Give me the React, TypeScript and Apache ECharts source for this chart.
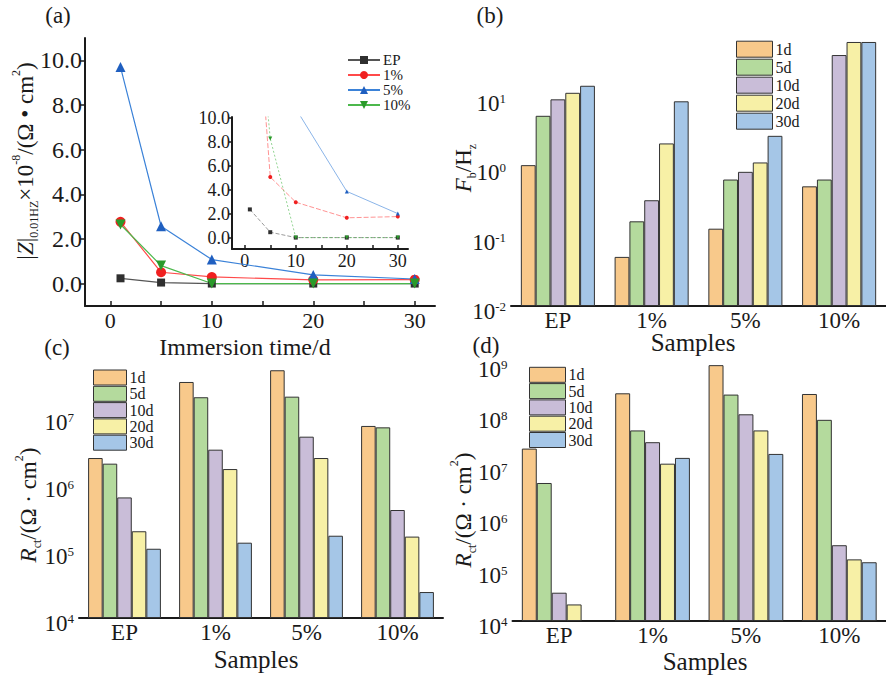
import React, { useEffect, useRef } from 'react';
import * as echarts from 'echarts';

// ---------- data ----------
const days = [1, 5, 10, 20, 30];
const lineNames = ['EP', '1%', '5%', '10%'];
// (a) |Z|0.01Hz x 1e-8 (main plot)
const zEP = [0.24, 0.05, 0.005, 0.005, 0.005];
const z1 = [2.77, 0.51, 0.3, 0.17, 0.18];
const z5 = [9.7, 2.57, 1.08, 0.39, 0.21];
const z10 = [2.65, 0.81, 0.005, 0.005, 0.005];
// (a) inset (magnified)
const insetEP = [2.4, 0.5, 0.05, 0.05, 0.05];
const inset1 = [27.7, 5.1, 3.0, 1.7, 1.8];
const inset5 = [97, 25.7, 10.8, 3.9, 2.05];
const inset10 = [26.5, 8.3, 0.05, 0.05, 0.05];

const samples = ['EP', '1%', '5%', '10%'];
const periods = ['1d', '5d', '10d', '20d', '30d'];
// (b) Fb / Hz
const fb1d = [1.07, 0.051, 0.13, 0.53];
const fb5d = [5.5, 0.166, 0.664, 0.664];
const fb10d = [9.5, 0.334, 0.857, 41.3];
const fb20d = [11.8, 2.2, 1.17, 63.7];
const fb30d = [14.9, 8.9, 2.83, 63.7];
// (c) Rct
const rc1d = [2.44e6, 3.33e7, 4.98e7, 7.35e6];
const rc5d = [2.01e6, 1.97e7, 2.01e7, 7.0e6];
const rc10d = [6.3e5, 3.25e6, 5.08e6, 4.09e5];
const rc20d = [1.97e5, 1.67e6, 2.44e6, 1.64e5];
const rc30d = [1.08e5, 1.33e5, 1.69e5, 2.44e4];
// (d) Rct
const rd1d = [2.26e7, 2.69e8, 9.5e8, 2.61e8];
const rd5d = [4.84e6, 5.1e7, 2.54e8, 8.2e7];
const rd10d = [3.55e4, 3.01e7, 1.05e8, 2.98e5];
const rd20d = [2.1e4, 1.15e7, 5.1e7, 1.58e5];
const rd30d = [null, 1.49e7, 1.78e7, 1.39e5];

const yTicksA = [0, 2, 4, 6, 8, 10];
const xTicksA = [0, 10, 20, 30];
const xMinorA = [0, 5, 10, 15, 20, 25, 30];

// ---------- styles ----------
const serif = '"Liberation Serif", "Times New Roman", serif';
const ink = '#1a1a1a';
const barColors = ['#F8C98B', '#B4DA9D', '#C9BDD8', '#F7F0A6', '#A5C6E7'];
const lineColors = ['#555555', '#ff4a4a', '#3b82d8', '#4cb84c'];
const insetTypes: any[] = [[4, 2], [5, 2], 'solid', [2, 2]];
const markColors = ['#2f2f2f', '#f02020', '#1f5fc0', '#2a9a2a'];
const symbols = ['rect', 'circle', 'triangle', 'triangle'];
const rotations = [0, 0, 0, 180];

const axisLineStyle = { lineStyle: { color: ink, width: 2 }, onZero: false };

const logFormatter = (v: number) => {
  const e = Math.log10(v);
  const r = Math.round(e);
  if (Math.abs(e - r) > 1e-6) return '';
  return '10{sup|' + r + '}';
};
const logRich = {
  sup: { fontSize: 13, fontFamily: serif, color: ink, verticalAlign: 'top', lineHeight: 12 },
};

function vTitle(x: number, y: number, text: string, size = 23) {
  return {
    type: 'text',
    x,
    y,
    rotation: Math.PI / 2,
    style: {
      text,
      fill: ink,
      font: `${size}px ${serif}`,
      fontSize: size,
      fontFamily: serif,
      align: 'center',
      verticalAlign: 'middle',
      textAlign: 'center',
      textVerticalAlign: 'middle',
      lineHeight: 30,
      rich: {
        i: { fontStyle: 'italic', fontSize: size, fontFamily: serif, fill: ink },
        sub: { fontSize: 12, fontFamily: serif, verticalAlign: 'bottom', fill: ink, lineHeight: 12 },
        sup: { fontSize: 12, fontFamily: serif, verticalAlign: 'top', fill: ink, lineHeight: 12 },
      },
    },
  };
}
function hText(x: number, y: number, text: string, size = 24) {
  return {
    type: 'text',
    x,
    y,
    style: {
      text,
      fill: ink,
      font: `${size}px ${serif}`,
      align: 'center',
      verticalAlign: 'middle',
      textAlign: 'center',
      textVerticalAlign: 'middle',
    },
  };
}

function buildOption() {
  const lineData = [zEP, z1, z5, z10];
  const insetData = [insetEP, inset1, inset5, inset10];
  const barSets = [
    [fb1d, fb5d, fb10d, fb20d, fb30d],
    [rc1d, rc5d, rc10d, rc20d, rc30d],
    [rd1d, rd5d, rd10d, rd20d, rd30d],
  ];

  const series: any[] = [];
  lineNames.forEach((name, i) => {
    series.push({
      type: 'line',
      name,
      xAxisIndex: 0,
      yAxisIndex: 0,
      data: days.map((d, k) => [d, lineData[i][k]]),
      symbol: symbols[i],
      symbolRotate: rotations[i],
      symbolSize: i === 0 ? 8 : 10,
      lineStyle: { color: lineColors[i], width: 1.2 },
      itemStyle: { color: markColors[i] },
      z: 3,
    });
  });
  lineNames.forEach((name, i) => {
    series.push({
      type: 'line',
      name,
      xAxisIndex: 1,
      yAxisIndex: 1,
      data: days.map((d, k) => [d, insetData[i][k]]),
      symbol: symbols[i],
      symbolRotate: rotations[i],
      symbolSize: 4,
      clip: true,
      lineStyle: { color: lineColors[i], width: 0.8, type: insetTypes[i], opacity: 0.75 },
      itemStyle: { color: markColors[i] },
      z: 3,
    });
  });
  barSets.forEach((set, p) => {
    periods.forEach((name, i) => {
      series.push({
        type: 'bar',
        name,
        xAxisIndex: p + 2,
        yAxisIndex: p + 2,
        data: set[i],
        barGap: '0%',
        barCategoryGap: p === 0 ? '21%' : '20%',
        itemStyle: { color: barColors[i], borderColor: '#333', borderWidth: 1 },
      });
    });
  });

  const catLabel = { fontSize: 23, fontFamily: serif, color: ink, margin: 3 };
  const logLabel = {
    fontSize: 23,
    fontFamily: serif,
    color: ink,
    margin: 5,
    padding: [11, 0, 0, 0],
    formatter: logFormatter,
    rich: logRich,
  };

  const barLegend = (left: number, top: number, w: number, h: number, gap: number, fs: number) => ({
    orient: 'vertical',
    left,
    top,
    padding: 0,
    itemWidth: w,
    itemHeight: h,
    itemGap: gap,
    icon: 'rect',
    data: periods,
    itemStyle: { borderColor: '#333', borderWidth: 1 },
    textStyle: { fontSize: fs, fontFamily: serif, color: ink, padding: [0, 0, 0, -2] },
  });

  return {
    animation: false,
    backgroundColor: '#ffffff',
    grid: [
      { left: 85, top: 38, width: 350, height: 268 },
      { left: 232, top: 117, width: 176, height: 132 },
      { left: 511, top: 34, width: 396, height: 272 },
      { left: 79, top: 367, width: 364, height: 251 },
      { left: 512.5, top: 364, width: 388, height: 257 },
    ],
    legend: [
      {
        orient: 'vertical',
        left: 347,
        top: 52.5,
        padding: 0,
        itemWidth: 32,
        itemHeight: 10,
        itemGap: 0,
        data: lineNames,
        textStyle: { fontSize: 15, fontFamily: serif, color: ink, padding: [0, 0, 0, -2] },
      },
      barLegend(736, 40.7, 36, 16, 1, 16),
      barLegend(93, 369.5, 33, 15, 0.3, 16),
      barLegend(529, 366.8, 36, 15, 0.3, 16),
    ],
    xAxis: [
      {
        type: 'value',
        gridIndex: 0,
        min: -2.5,
        max: 32,
        axisLine: axisLineStyle,
        axisTick: { inside: true, length: 5, customValues: xMinorA, lineStyle: { color: ink, width: 1.5 } },
        axisLabel: { customValues: xTicksA, fontSize: 22, fontFamily: serif, color: ink, margin: 3 },
        splitLine: { show: false },
      },
      {
        type: 'value',
        gridIndex: 1,
        min: -2.5,
        max: 32,
        axisLine: axisLineStyle,
        axisTick: { inside: true, length: 4, customValues: xMinorA, lineStyle: { color: ink, width: 1.5 } },
        axisLabel: { customValues: xTicksA, fontSize: 18, fontFamily: serif, color: ink, margin: 3 },
        splitLine: { show: false },
      },
      ...[2, 3, 4].map((g) => ({
        type: 'category',
        gridIndex: g,
        data: samples,
        axisLine: axisLineStyle,
        axisTick: { alignWithLabel: true, inside: true, length: 5, lineStyle: { color: ink, width: 1.5 } },
        axisLabel: catLabel,
        splitLine: { show: false },
      })),
    ],
    yAxis: [
      {
        type: 'value',
        gridIndex: 0,
        min: -1,
        max: 11,
        axisLine: axisLineStyle,
        axisTick: { length: 5, customValues: yTicksA, lineStyle: { color: ink, width: 1.5 } },
        axisLabel: {
          customValues: yTicksA,
          formatter: (v: number) => v.toFixed(1),
          fontSize: 24,
          fontFamily: serif,
          color: ink,
          margin: 3,
        },
        splitLine: { show: false },
      },
      {
        type: 'value',
        gridIndex: 1,
        min: -0.9,
        max: 10.1,
        axisLine: axisLineStyle,
        axisTick: { length: 3, customValues: yTicksA, lineStyle: { color: ink, width: 1.5 } },
        axisLabel: {
          customValues: yTicksA,
          formatter: (v: number) => v.toFixed(1),
          fontSize: 18,
          fontFamily: serif,
          color: ink,
          margin: 2,
        },
        splitLine: { show: false },
      },
      {
        type: 'log',
        logBase: 10,
        gridIndex: 2,
        min: 0.01,
        max: 83,
        startValue: 0.01,
        axisLine: axisLineStyle,
        axisTick: { length: 6, lineStyle: { color: ink, width: 1.5 } },
        axisLabel: logLabel,
        splitLine: { show: false },
      },
      {
        type: 'log',
        logBase: 10,
        gridIndex: 3,
        min: 1e4,
        max: 5.57e7,
        startValue: 1e4,
        axisLine: axisLineStyle,
        axisTick: { length: 6, lineStyle: { color: ink, width: 1.5 } },
        axisLabel: logLabel,
        splitLine: { show: false },
      },
      {
        type: 'log',
        logBase: 10,
        gridIndex: 4,
        min: 1e4,
        max: 1e9,
        startValue: 1e4,
        axisLine: axisLineStyle,
        axisTick: { length: 6, lineStyle: { color: ink, width: 1.5 } },
        axisLabel: logLabel,
        splitLine: { show: false },
      },
    ],
    graphic: [
      hText(58, 15, '(a)', 23),
      hText(490, 15, '(b)', 23),
      hText(57, 347, '(c)', 23),
      hText(486, 345, '(d)', 23),
      hText(245, 347, 'Immersion time/d', 24),
      hText(693, 342, 'Samples', 25),
      hText(256, 659, 'Samples', 25),
      hText(705, 661, 'Samples', 25),
      vTitle(25, 161, '|{i|Z}|{sub|0.01HZ}×10{sup|-8}/(Ω • cm{sup|2})', 23),
      vTitle(463, 168, '{i|F}{sub|b}/H{sub|z}', 23),
      vTitle(28, 505, '{i|R}{sub|ct}/(Ω · cm{sup|2})', 23),
      vTitle(463, 510, '{i|R}{sub|ct}/(Ω · cm{sup|2})', 23),
    ],
    series,
  };
}

export default function App() {
  const ref = useRef<HTMLDivElement>(null);
  useEffect(() => {
    document.body.style.margin = '0';
    if (!ref.current) return;
    const chart = echarts.init(ref.current, undefined, { renderer: 'svg' });
    chart.setOption(buildOption() as any);
    return () => chart.dispose();
  }, []);
  return (
    <div
      ref={ref}
      style={{ position: 'absolute', left: 0, top: 0, width: 886, height: 676, background: '#fff' }}
    />
  );
}
